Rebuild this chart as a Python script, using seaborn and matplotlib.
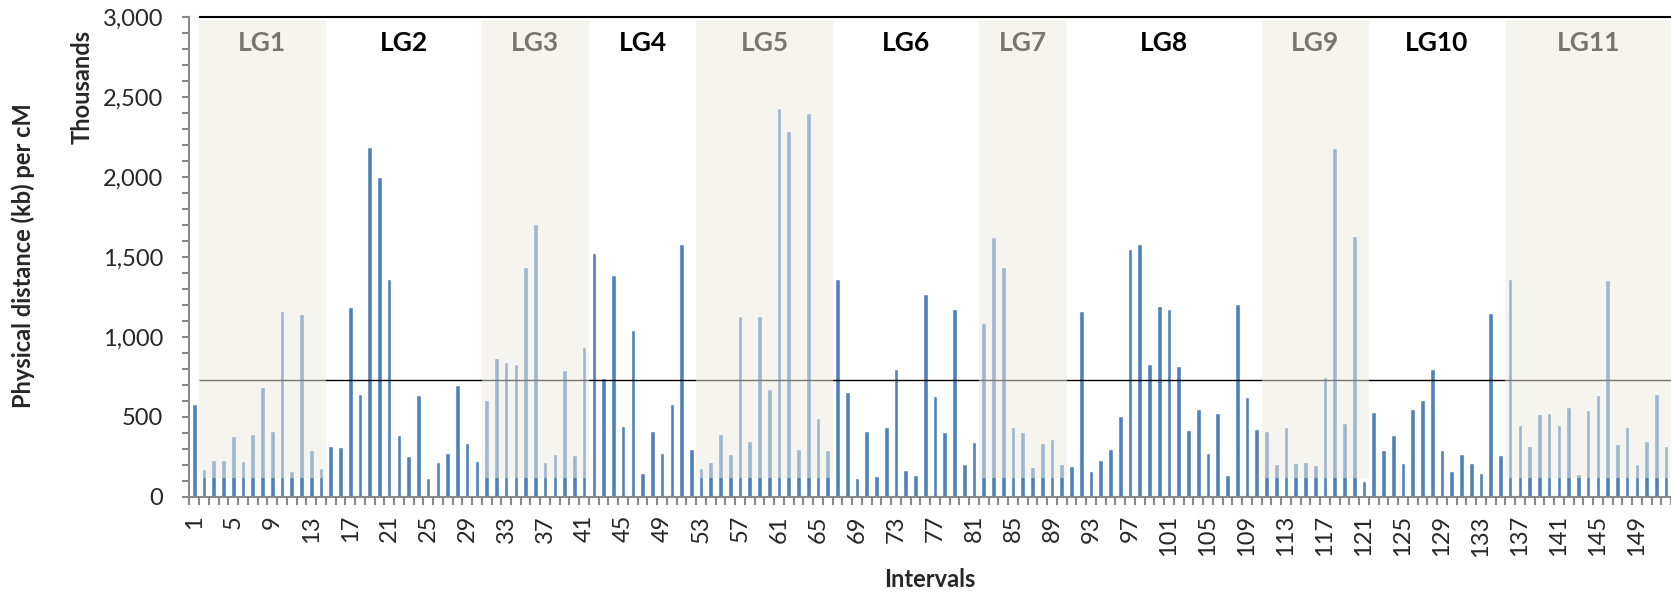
import matplotlib
matplotlib.use("Agg")
from matplotlib import pyplot as plt
from matplotlib.ticker import MultipleLocator, FuncFormatter
import numpy as np
import pandas as pd
import seaborn as sns

# physical distance (kb) per cM for each interval
intervals = list(range(1, 153))
values = [
    580, 173, 229, 233, 381, 225, 394, 690, 412, 1165,
    165, 1146, 296, 183, 319, 315, 1185, 642, 2190, 2000,
    1360, 390, 254, 638, 117, 219, 275, 700, 340, 223,
    606, 871, 844, 831, 1435, 1705, 219, 269, 792, 262,
    940, 1527, 742, 1385, 444, 1044, 152, 412, 273, 581,
    1579, 300, 183, 219, 392, 269, 1133, 352, 1129, 673,
    2431, 2288, 300, 2402, 496, 294, 1365, 658, 119, 412,
    131, 437, 798, 169, 135, 1271, 631, 404, 1175, 208,
    344, 1088, 1623, 1440, 440, 404, 188, 335, 360, 204,
    192, 1165, 160, 229, 300, 506, 1552, 1579, 831, 1196,
    1173, 817, 417, 548, 275, 527, 135, 1206, 623, 423,
    415, 204, 435, 215, 219, 198, 750, 2181, 460, 1629,
    98, 529, 294, 385, 215, 548, 606, 802, 294, 160,
    271, 215, 150, 1148, 262, 1362, 450, 317, 519, 523,
    448, 560, 142, 544, 638, 1358, 331, 435, 204, 350,
    642, 319,
]

# linkage groups: first and last interval of each
lg_names = ["LG1", "LG2", "LG3", "LG4", "LG5", "LG6", "LG7", "LG8", "LG9", "LG10", "LG11"]
lg_first = [2, 15, 31, 42, 53, 67, 82, 91, 111, 122, 136]
lg_last = [14, 30, 41, 52, 66, 81, 90, 110, 121, 135, 152]

mean_level = 730
top_level = 3000
shade_bottom = 120
shade_top = 2980

bar_color = "#4F81BD"
shade_color = "#EDEBE1"
axis_grey = "#898989"

sns.set_style("white")
plt.rcParams['font.family'] = ['Lato', 'DejaVu Sans']

df = pd.DataFrame({"interval": intervals, "kb_per_cm": values})

fig = plt.figure(figsize=(16.71, 5.92), dpi=100)
ax = fig.add_axes([0.1133, 0.1605, 0.8867, 0.8108])

sns.barplot(data=df, x="interval", y="kb_per_cm", order=intervals,
            color=bar_color, saturation=1, width=0.48, ax=ax, zorder=2)

ax.set_xlim(-0.5, len(intervals) - 0.5)
ax.set_ylim(0, top_level)

# reference lines (start after the first interval)
x_start = lg_first[0] - 1.5
x_end = len(intervals) - 0.5
ax.hlines(mean_level, x_start, x_end, color="black", lw=1.0, zorder=3)
ax.hlines(top_level, x_start, x_end, color="black", lw=1.5, zorder=6, clip_on=False)

# group labels and shading of the odd groups
for k, name in enumerate(lg_names):
    x0 = lg_first[k] - 1.5
    x1 = lg_last[k] - 0.5
    ax.text((x0 + x1) / 2, 2840, name, ha="center", va="center",
            fontsize=19, fontweight="bold", color="black", zorder=3)
    if k % 2 == 0:
        ax.fill_between([x0, x1], shade_bottom, shade_top, color=shade_color,
                        alpha=0.5, lw=0, zorder=4)

# axes styling
ax.spines[["top", "right"]].set_visible(False)
for side in ["left", "bottom"]:
    ax.spines[side].set_color(axis_grey)
    ax.spines[side].set_linewidth(1.5)

ax.set_xticks(np.arange(0, len(intervals), 4))
ax.set_xticklabels([str(i) for i in intervals[::4]], rotation=90)
ax.set_xticks(np.arange(-0.5, len(intervals), 1), minor=True)
ax.tick_params(axis="x", which="major", length=0, pad=13, labelsize=17)
ax.tick_params(axis="x", which="minor", length=6, width=1.5, color=axis_grey,
               direction="out", bottom=True)

ax.yaxis.set_major_locator(MultipleLocator(500))
ax.yaxis.set_minor_locator(MultipleLocator(100))
ax.yaxis.set_major_formatter(FuncFormatter(lambda v, p: f"{v:,.0f}"))
ax.tick_params(axis="y", which="both", length=5, width=1.5, color=axis_grey,
               direction="out", left=True)
ax.tick_params(axis="y", which="major", pad=14, labelsize=17)

ax.set_ylabel("Physical distance (kb) per cM", fontsize=17, fontweight="bold")
ax.yaxis.set_label_coords(-0.104, 0.502)
ax.set_xlabel("Intervals", fontsize=17, fontweight="bold")
ax.xaxis.set_label_coords(0.5, -0.148)
ax.text(-0.0725, 0.854, "Thousands", transform=ax.transAxes, rotation=90,
        ha="center", va="center", fontsize=17, fontweight="bold")

fig.savefig("out.png", dpi=100)
